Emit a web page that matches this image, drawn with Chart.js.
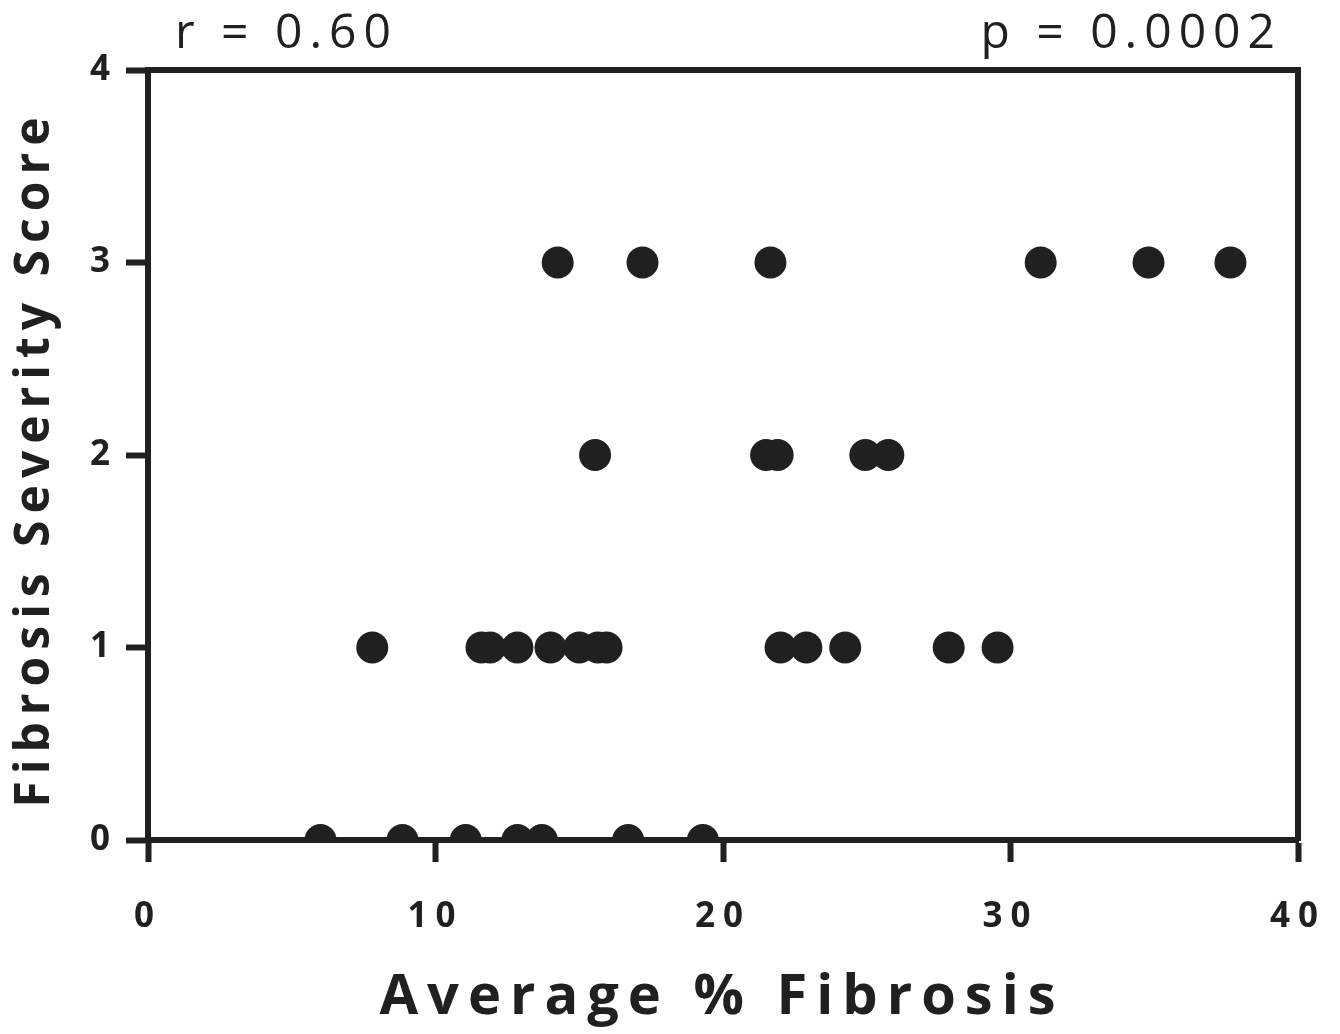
<!DOCTYPE html>
<html>
<head>
<meta charset="utf-8">
<script src="https://cdn.jsdelivr.net/npm/chart.js@4/dist/chart.umd.min.js"></script>
<style>
  html, body { margin: 0; padding: 0; background: #fff; }
</style>
</head>
<body>
<canvas id="myChart" width="1340" height="1034"></canvas>
<script>
// points: average % fibrosis vs severity score
var avgFibrosis = [
  6.0, 8.85, 11.05, 12.85, 13.7, 16.7, 19.3,
  7.8, 11.6, 11.9, 12.85, 14.0, 15.0, 15.65, 15.95, 22.0, 22.9, 24.25, 27.85, 29.55,
  15.55, 21.5, 21.9, 24.95, 25.75,
  14.25, 17.2, 21.65, 31.05, 34.8, 37.65
];
var severityScore = [
  0, 0, 0, 0, 0, 0, 0,
  1, 1, 1, 1, 1, 1, 1, 1, 1, 1, 1, 1, 1,
  2, 2, 2, 2, 2,
  3, 3, 3, 3, 3, 3
];
var xTicks = [0, 10, 20, 30, 40];
var yTicks = [0, 1, 2, 3, 4];
var xTitle = "Average % Fibrosis";
var yTitle = "Fibrosis Severity Score";
var rText = "r = 0.60";
var pText = "p = 0.0002";

var ink = "#202020";
var font = "'Open Sans', 'DejaVu Sans', sans-serif";

var points = avgFibrosis.map(function (v, i) {
  return { x: v, y: severityScore[i] };
});

// axis titles and r / p are drawn here so the letter spacing can be set
var textPlugin = {
  id: "texts",
  beforeDraw: function (chart) {
    chart.ctx.letterSpacing = "8px";
  },
  afterDraw: function (chart) {
    var ctx = chart.ctx;
    var a = chart.chartArea;
    ctx.save();
    ctx.fillStyle = ink;

    ctx.letterSpacing = "9px";
    ctx.font = "bold 56px " + font;
    ctx.textAlign = "center";
    ctx.textBaseline = "middle";
    ctx.fillText(xTitle, 722, 998);

    ctx.save();
    ctx.letterSpacing = "7px";
    ctx.font = "bold 48px " + font;
    ctx.translate(35, 459);
    ctx.rotate(-Math.PI / 2);
    ctx.fillText(yTitle, 0, 0);
    ctx.restore();

    ctx.letterSpacing = "7px";
    ctx.font = "48px " + font;
    ctx.textBaseline = "alphabetic";
    ctx.textAlign = "left";
    ctx.fillText(rText, 175, 48);
    ctx.textAlign = "right";
    ctx.fillText(pText, 1282, 48);
    ctx.restore();
  }
};

new Chart("myChart", {
  type: "scatter",
  data: {
    datasets: [
      {
        data: points,
        backgroundColor: ink,
        borderWidth: 0,
        pointRadius: 16,
        pointHoverRadius: 16,
        clip: 0
      }
    ]
  },
  options: {
    responsive: false,
    animation: false,
    layout: { padding: 0 },
    plugins: {
      legend: { display: false },
      tooltip: { enabled: false }
    },
    scales: {
      x: {
        type: "linear",
        position: "bottom",
        min: 0,
        max: 40,
        afterBuildTicks: function (s) {
          s.ticks = xTicks.map(function (v) { return { value: v }; });
        },
        afterFit: function (s) { s.height = 1034 - 840; s.paddingRight = 0; },
        grid: { drawOnChartArea: false, drawTicks: true, tickLength: 22, tickWidth: 6, tickColor: ink },
        border: { width: 6, color: ink },
        ticks: { color: ink, padding: 34, maxRotation: 0, font: { family: font, size: 35, weight: "bold" } }
      },
      y: {
        type: "linear",
        position: "left",
        min: 0,
        max: 4,
        afterBuildTicks: function (s) {
          s.ticks = yTicks.map(function (v) { return { value: v }; });
        },
        afterFit: function (s) { s.width = 148; },
        grid: { drawOnChartArea: false, drawTicks: true, tickLength: 22, tickWidth: 6, tickColor: ink },
        border: { width: 6, color: ink },
        ticks: { color: ink, padding: 8, font: { family: font, size: 35, weight: "bold" } }
      },
      x2: {
        type: "linear",
        position: "top",
        min: 0,
        max: 40,
        afterFit: function (s) { s.height = 70; },
        grid: { display: false },
        border: { width: 6, color: ink },
        ticks: { display: false }
      },
      y2: {
        type: "linear",
        position: "right",
        min: 0,
        max: 4,
        afterFit: function (s) { s.width = 1340 - 1298; },
        grid: { display: false },
        border: { width: 6, color: ink },
        ticks: { display: false }
      }
    }
  },
  plugins: [textPlugin]
});
</script>
</body>
</html>
